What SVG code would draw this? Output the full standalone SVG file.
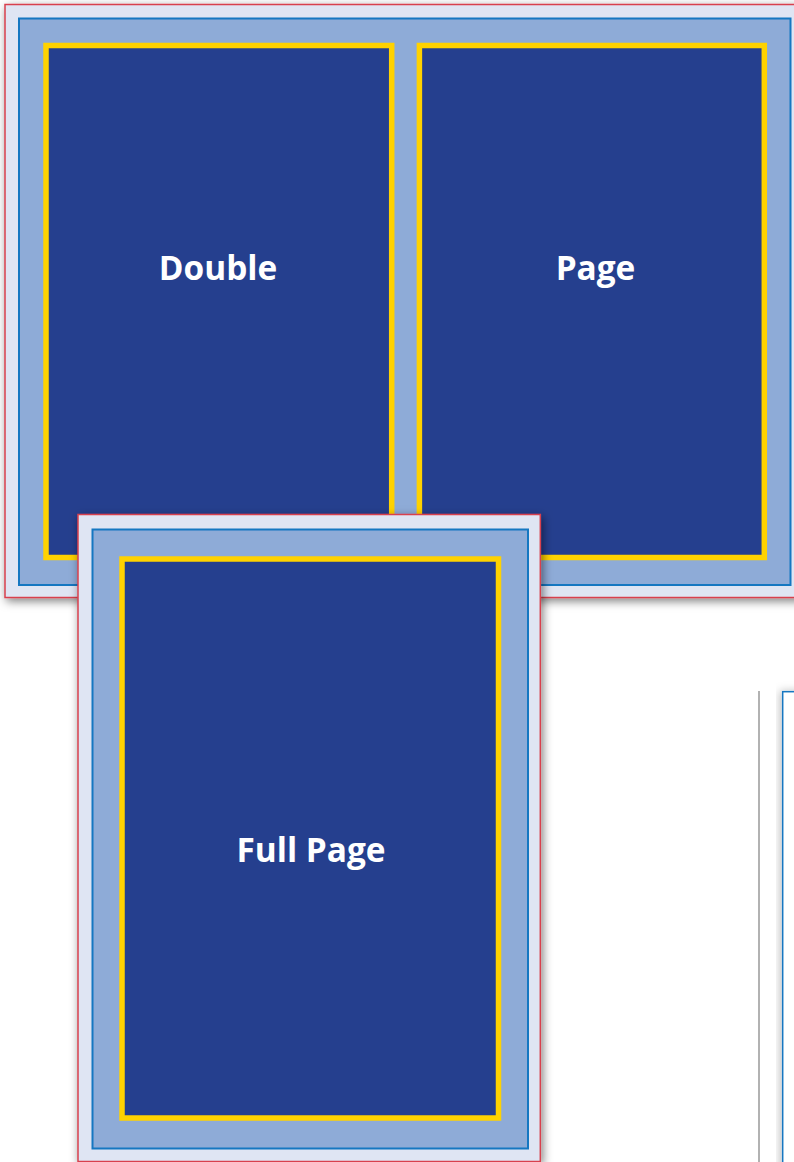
<svg xmlns="http://www.w3.org/2000/svg" width="794" height="1162" viewBox="0 0 794 1162">
  <defs>
    <filter id="shadow" x="-10%" y="-10%" width="130%" height="130%">
      <feDropShadow dx="2" dy="3" stdDeviation="5" flood-color="#000" flood-opacity="0.5"/>
    </filter>
    <filter id="shadowL" x="-20%" y="-10%" width="140%" height="130%">
      <feDropShadow dx="-2" dy="0" stdDeviation="4" flood-color="#000" flood-opacity="0.25"/>
    </filter>
  </defs>
  <style>
    .sheet { fill: #dfe5f3; stroke: #d8404e; stroke-width: 1.5; }
    .bleed { fill: #8eabd7; stroke: #1577c1; stroke-width: 2; }
    .trim { fill: #253f8e; stroke: #ffd200; stroke-width: 5.5; }
    .label { font-family: "Open Sans", "Liberation Sans", sans-serif; font-weight: bold; font-size: 33.4px; fill: #ffffff; text-anchor: middle; }
  </style>
  <rect width="794" height="1162" fill="#ffffff"/>

  <g id="double-page-spread">
    <rect class="sheet" x="5" y="4.5" width="800" height="593" filter="url(#shadow)"/>
    <rect class="bleed" x="19" y="18.5" width="771.5" height="566.5"/>
    <g id="double">
      <rect class="trim" x="46" y="45.5" width="345.7" height="512"/>
      <text class="label" x="218" y="279.5">Double</text>
    </g>
    <g id="page">
      <rect class="trim" x="419.4" y="45.5" width="344.9" height="512"/>
      <text class="label" x="595.5" y="279.5">Page</text>
    </g>
  </g>

  <g id="side-page">
    <line x1="759" y1="691" x2="759" y2="1162" stroke="#999999" stroke-width="1.5"/>
    <rect x="782.7" y="691.7" width="30" height="480" fill="#ffffff" stroke="#1577c1" stroke-width="1.5" filter="url(#shadowL)"/>
  </g>

  <g id="full-page">
    <rect class="sheet" x="78" y="514.5" width="462.3" height="647" filter="url(#shadow)"/>
    <rect class="bleed" x="92.5" y="529.5" width="435.5" height="619"/>
    <rect class="trim" x="122" y="559" width="376.5" height="559"/>
    <text class="label" x="311" y="862">Full Page</text>
  </g>

  <g id="connectors"/>
</svg>
